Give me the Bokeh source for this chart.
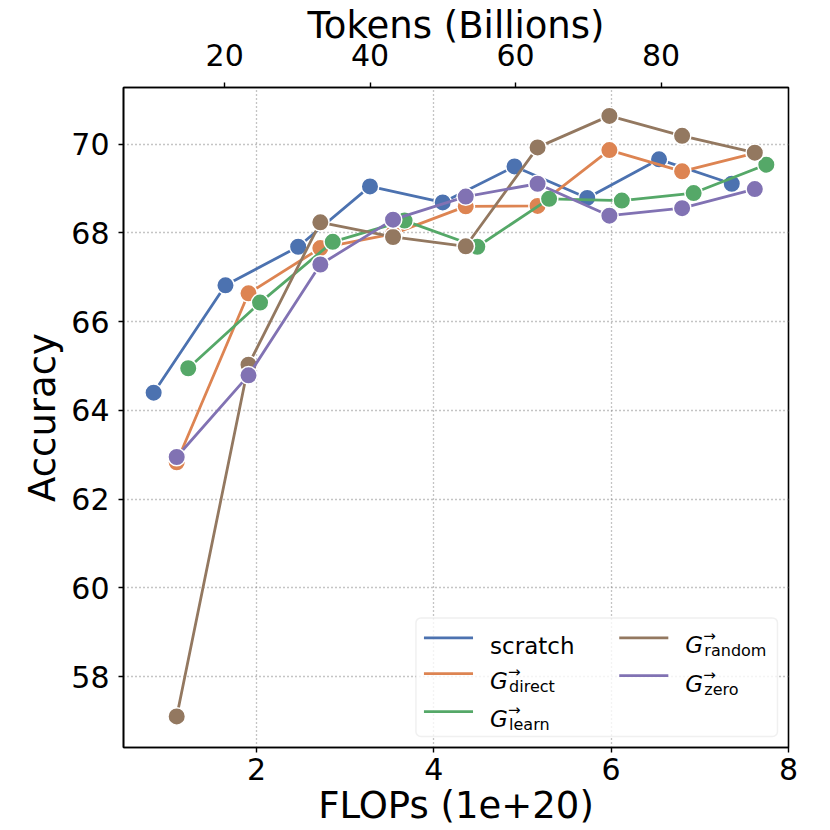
from bokeh.plotting import figure
from bokeh.models import (Range1d, LinearAxis, FixedTicker, BoxAnnotation,
                          Label, Arrow, Grid)
from bokeh.embed import file_html
from bokeh.resources import INLINE

# ---------------- data ----------------
FLOPS_SCRATCH = [0.84, 1.65, 2.47, 3.28, 4.10, 4.91, 5.73, 6.54, 7.36]
ACC_SCRATCH = [64.40, 66.82, 67.69, 69.05, 68.69, 69.50, 68.79, 69.66, 69.11]

FLOPS_GROWN = [1.10, 1.91, 2.72, 3.54, 4.36, 5.17, 5.98, 6.80, 7.62]
ACC_DIRECT = [62.83, 66.64, 67.66, 67.98, 68.60, 68.61, 69.87, 69.39, 69.80]
ACC_RANDOM = [57.10, 65.03, 68.24, 67.91, 67.70, 69.93, 70.64, 70.19, 69.81]
ACC_ZERO = [62.95, 64.79, 67.29, 68.30, 68.82, 69.11, 68.39, 68.56, 68.99]

FLOPS_LEARN = [1.23, 2.04, 2.86, 3.67, 4.49, 5.30, 6.12, 6.93, 7.75]
ACC_LEARN = [64.95, 66.43, 67.80, 68.28, 67.69, 68.77, 68.73, 68.90, 69.54]

TOKENS_PER_1E20 = 12.19  # billions of tokens per 1e20 FLOPs (top axis)

X_TICKS = [2, 4, 6, 8]
Y_TICKS = [58, 60, 62, 64, 66, 68, 70]
TOKEN_TICKS = [20, 40, 60, 80]

COLORS = {"scratch": "#4C72B0", "direct": "#DD8452", "learn": "#55A868",
          "random": "#937860", "zero": "#8172B3"}

FONT = "DejaVu Sans"
X0, X1 = 0.5, 8.0
Y0, Y1 = 56.4, 71.28

p = figure(width=822, height=829, x_range=Range1d(X0, X1), y_range=Range1d(Y0, Y1),
           output_backend="svg", toolbar_location=None,
           x_axis_location=None, y_axis_location=None,
           min_border_left=123, min_border_right=34, min_border_top=84, min_border_bottom=0,
           background_fill_color="white", border_fill_color="white")
p.xgrid.visible = False
p.ygrid.visible = False

p.outline_line_color = "black"
p.outline_line_width = 1.6
p.outline_line_alpha = 1.0

p.extra_x_ranges = {"tokens": Range1d(X0 * TOKENS_PER_1E20, X1 * TOKENS_PER_1E20)}

bottom = LinearAxis(axis_label="FLOPs (1e+20)", ticker=FixedTicker(ticks=X_TICKS))
left = LinearAxis(axis_label="Accuracy", ticker=FixedTicker(ticks=Y_TICKS))
top = LinearAxis(x_range_name="tokens", axis_label="Tokens (Billions)",
                 ticker=FixedTicker(ticks=TOKEN_TICKS))
p.add_layout(bottom, "below")
p.add_layout(left, "left")
p.add_layout(top, "above")

for ax in (bottom, left, top):
    ax.axis_label_text_font = FONT
    ax.axis_label_text_font_size = "37px"
    ax.axis_label_text_font_style = "normal"
    ax.axis_label_text_color = "black"
    ax.major_label_text_font = FONT
    ax.major_label_text_font_size = "30px"
    ax.major_label_text_color = "black"
    ax.axis_line_color = "black"
    ax.axis_line_width = 1.6
    ax.major_tick_line_color = "black"
    ax.major_tick_line_width = 1.4
    ax.major_tick_in = 0
    ax.major_tick_out = 5
    ax.minor_tick_line_color = None
bottom.major_label_standoff = 5
bottom.axis_label_standoff = 1
top.major_label_standoff = 17
top.axis_label_standoff = -6
left.major_label_standoff = 9
left.axis_label_standoff = 4

xg = Grid(dimension=0, ticker=FixedTicker(ticks=X_TICKS))
yg = Grid(dimension=1, ticker=FixedTicker(ticks=Y_TICKS))
for g in (xg, yg):
    g.grid_line_color = "#8a8a8a"
    g.grid_line_width = 1.3
    g.grid_line_dash = "1 3"
    g.grid_line_alpha = 1.0
    p.add_layout(g)

series = [
    ("scratch", FLOPS_SCRATCH, ACC_SCRATCH),
    ("direct", FLOPS_GROWN, ACC_DIRECT),
    ("learn", FLOPS_LEARN, ACC_LEARN),
    ("random", FLOPS_GROWN, ACC_RANDOM),
    ("zero", FLOPS_GROWN, ACC_ZERO),
]
for name, xs, ys in series:
    c = COLORS[name]
    p.line(xs, ys, line_color=c, line_width=2.8)
    p.scatter(xs, ys, size=17.5, fill_color=c, line_color="white", line_width=1.5)

# ---------------- legend (built by hand for the math labels) ----------------
# layout positions in reference pixels (frame spans x 124..788, y 84..746)
def lx(px):
    return X0 + (px - 124) / 664 * (X1 - X0)


def ly(py):
    return Y1 - (py - 84) / 662 * (Y1 - Y0)


p.add_layout(BoxAnnotation(left=lx(416), right=lx(777), top=ly(616), bottom=ly(735),
                           fill_color="white", fill_alpha=0.8, line_color="#cccccc",
                           line_width=1.5, border_radius=5))

legend_items = [
    # name, subscript, swatch x0, swatch y, text x, text baseline
    ("scratch", None, 424, 636, 490, 644),
    ("direct", "direct", 424, 672, 490, 679),
    ("learn", "learn", 424, 710, 490, 717),
    ("random", "random", 619, 636, 685, 643),
    ("zero", "zero", 619, 674, 685, 682),
]
for name, sub, sx, sy, tx, tb in legend_items:
    p.add_layout(Arrow(x_start=lx(sx), y_start=ly(sy), x_end=lx(sx + 49), y_end=ly(sy),
                       end=None, line_color=COLORS[name], line_width=2.8))
    if sub is None:
        p.add_layout(Label(x=lx(tx), y=ly(tb), text=name, text_font=FONT,
                           text_font_size="23px", text_baseline="alphabetic",
                           text_color="black"))
    else:
        p.add_layout(Label(x=lx(tx), y=ly(tb), text="G", text_font=FONT,
                           text_font_size="23px", text_font_style="italic",
                           text_baseline="alphabetic", text_color="black"))
        p.add_layout(Label(x=lx(tx + 18), y=ly(tb - 9), text="\u2192", text_font=FONT,
                           text_font_size="15px", text_baseline="alphabetic",
                           text_color="black"))
        p.add_layout(Label(x=lx(tx + 19), y=ly(tb + 6), text=sub, text_font=FONT,
                           text_font_size="16px", text_baseline="alphabetic",
                           text_color="black"))

open("out.html", "w").write(file_html(p, INLINE))
